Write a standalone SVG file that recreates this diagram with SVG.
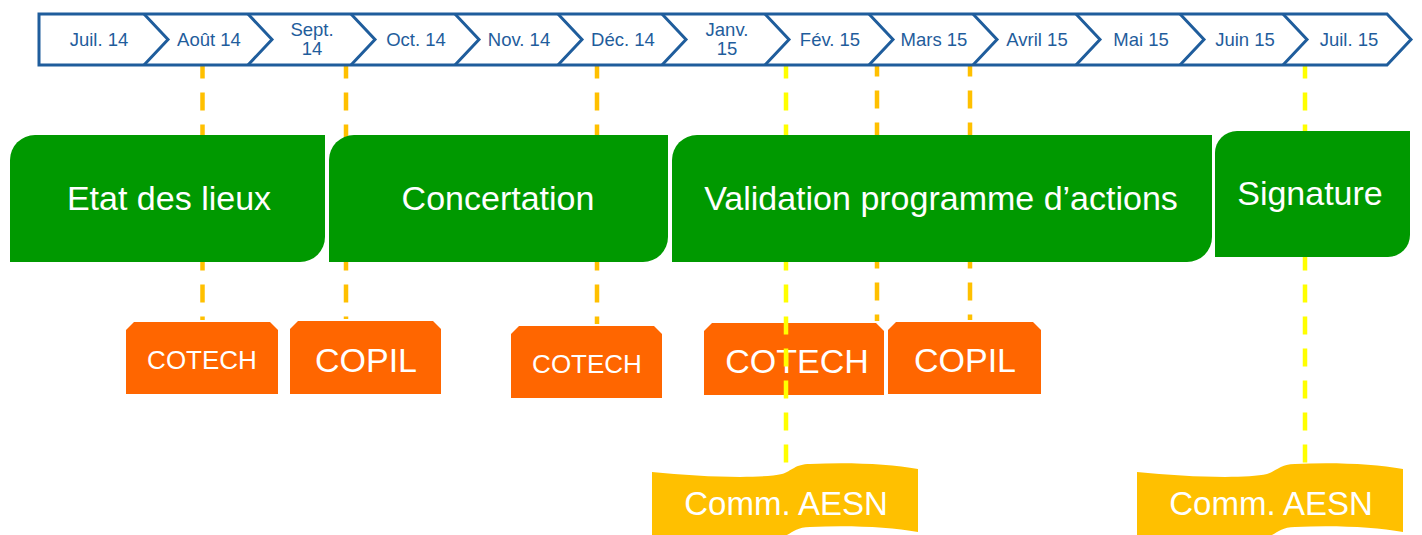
<svg xmlns="http://www.w3.org/2000/svg" width="1422" height="535" viewBox="0 0 1422 535">
<style>
.tl{fill:#fff;stroke:#1f5d9c;stroke-width:3;stroke-linejoin:miter}
.dv{fill:none;stroke:#1f5d9c;stroke-width:3}
.mt{font-family:"Liberation Sans",Arial,sans-serif;font-size:18.5px;fill:#1f5d9c;text-anchor:middle}
.g{fill:#009900}
.gt{font-family:"Liberation Sans",Arial,sans-serif;font-size:34px;fill:#fff;text-anchor:middle}
.o{fill:#ff6600}
.ot{font-family:"Liberation Sans",Arial,sans-serif;font-size:34px;fill:#fff;text-anchor:middle}
.ots{font-size:26px}
.y{fill:#ffc000}
.yt{font-family:"Liberation Sans",Arial,sans-serif;font-size:33px;fill:#fff;text-anchor:middle}
.c{fill:none;stroke-width:4.5;stroke-dasharray:18 14}
.cg{stroke:#ffc000}
.cy{stroke:#ffff00}
</style>
<rect width="1422" height="535" fill="#fff"/>
<g id="cotech1"><path class="o" d="M134,322 H270 L278,330 V394 H126 V330 Z"/><text class="ot ots" x="202" y="369">COTECH</text></g>
<g id="copil1"><path class="o" d="M298,321 H433 L441,329 V394 H290 V329 Z"/><text class="ot" x="366" y="372">COPIL</text></g>
<g id="cotech2"><path class="o" d="M519,326 H654 L662,334 V398 H511 V334 Z"/><text class="ot ots" x="587" y="373">COTECH</text></g>
<g id="cotech3"><path class="o" d="M712,323 H876 L884,331 V395 H704 V331 Z"/><text class="ot" x="797" y="373">COTECH</text></g>
<g id="copil2"><path class="o" d="M896,322 H1033 L1041,330 V394 H888 V330 Z"/><text class="ot" x="965" y="372">COPIL</text></g>
<g id="comm1"><path class="y" d="M652,472 C700,477 760,479 782,474 C792,471 795,464 810,464 C850,462 890,464 918,469 V532 C890,527 850,525 810,527 C795,527 792,534 782,537 C760,542 700,540 652,535 Z"/><text class="yt" x="786" y="515">Comm. AESN</text></g>
<g id="comm2"><path class="y" d="M1137,472 C1185,477 1245,479 1267,474 C1277,471 1280,464 1295,464 C1335,462 1375,464 1403,469 V532 C1375,527 1335,525 1295,527 C1280,527 1277,534 1267,537 C1245,542 1185,540 1137,535 Z"/><text class="yt" x="1271" y="515">Comm. AESN</text></g>
<g id="connectors">
<path class="c cg" d="M202.5,60.5 V320"/>
<path class="c cg" d="M346,60.5 V319"/>
<path class="c cg" d="M597,60.5 V324"/>
<path class="c cy" d="M786,60.5 V466"/>
<path class="c cg" d="M877,58.5 V321"/>
<path class="c cg" d="M970,58.5 V320"/>
<path class="c cy" d="M1305,60.5 V464"/>
</g>
<g id="timeline">
<path class="tl" d="M39,14 H1387 L1411,39.5 L1387,65 H39 Z"/>
<path class="dv" d="M144,14 L168,39.5 L144,65 M248,14 L272,39.5 L248,65 M351,14 L375,39.5 L351,65 M455,14 L479,39.5 L455,65 M558,14 L582,39.5 L558,65 M662,14 L686,39.5 L662,65 M765,14 L789,39.5 L765,65 M869,14 L893,39.5 L869,65 M973,14 L997,39.5 L973,65 M1076,14 L1100,39.5 L1076,65 M1180,14 L1204,39.5 L1180,65 M1283,14 L1307,39.5 L1283,65"/>
<text class="mt" x="99" y="46">Juil. 14</text>
<text class="mt" x="209" y="46">Août 14</text>
<text class="mt" x="312" y="36">Sept.</text>
<text class="mt" x="312" y="55">14</text>
<text class="mt" x="416" y="46">Oct. 14</text>
<text class="mt" x="519" y="46">Nov. 14</text>
<text class="mt" x="623" y="46">Déc. 14</text>
<text class="mt" x="727" y="36">Janv.</text>
<text class="mt" x="727" y="55">15</text>
<text class="mt" x="830" y="46">Fév. 15</text>
<text class="mt" x="934" y="46">Mars 15</text>
<text class="mt" x="1037" y="46">Avril 15</text>
<text class="mt" x="1141" y="46">Mai 15</text>
<text class="mt" x="1245" y="46">Juin 15</text>
<text class="mt" x="1349" y="46">Juil. 15</text>
</g>
<g id="etat"><path class="g" d="M35,135 H325 V237 A25,25 0 0 1 300,262 H10 V160 A25,25 0 0 1 35,135 Z"/><text class="gt" x="169" y="210">Etat des lieux</text></g>
<g id="concertation"><path class="g" d="M354,135 H668 V237 A25,25 0 0 1 643,262 H329 V160 A25,25 0 0 1 354,135 Z"/><text class="gt" x="498" y="210">Concertation</text></g>
<g id="validation"><path class="g" d="M697,135 H1212 V237 A25,25 0 0 1 1187,262 H672 V160 A25,25 0 0 1 697,135 Z"/><text class="gt" x="941" y="210">Validation programme d’actions</text></g>
<g id="signature"><path class="g" d="M1237,131 H1410 V235 A22,22 0 0 1 1388,257 H1215 V153 A22,22 0 0 1 1237,131 Z"/><text class="gt" x="1310" y="205">Signature</text></g>
</svg>
